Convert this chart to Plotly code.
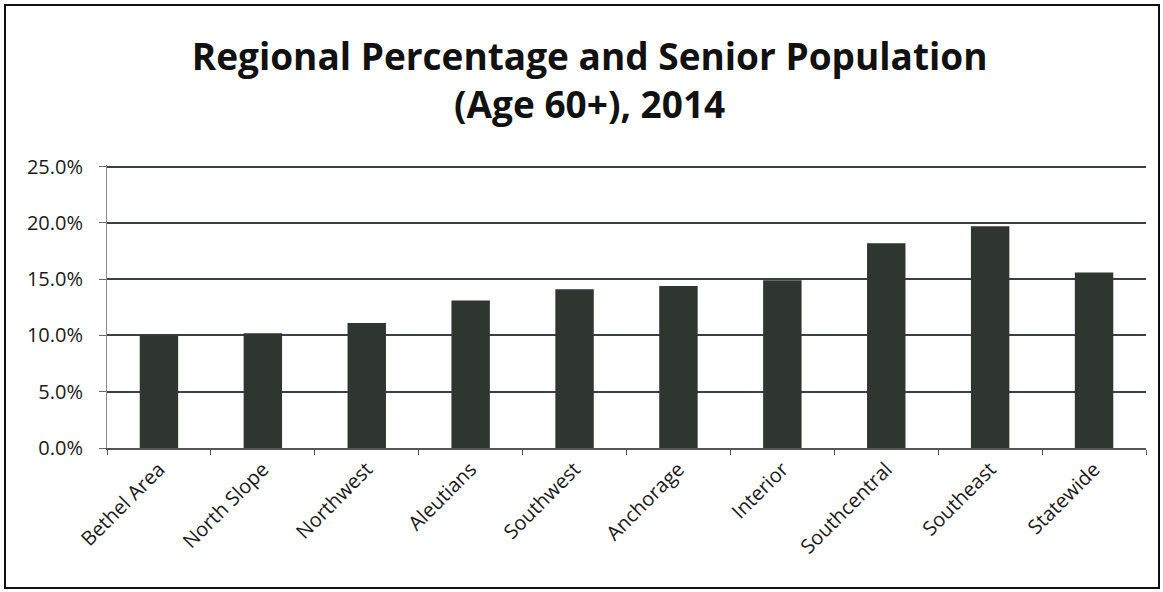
import plotly.graph_objects as go

regions = ["Bethel Area", "North Slope", "Northwest", "Aleutians", "Southwest",
           "Anchorage", "Interior", "Southcentral", "Southeast", "Statewide"]
senior_pct = [0.100, 0.102, 0.111, 0.131, 0.141, 0.144, 0.149, 0.182, 0.197, 0.156]
y_ticks = [0.0, 0.05, 0.10, 0.15, 0.20, 0.25]
y_top = 0.2515

W, H = 1163, 592
L, R, T, B = 107, 17, 165, 144
pw, ph = W - L - R, H - T - B

fig = go.Figure(go.Bar(x=regions, y=senior_pct, marker=dict(color="#2f362f", line=dict(width=0))))

fig.update_layout(
    width=W, height=H,
    margin=dict(l=L, r=R, t=T, b=B),
    paper_bgcolor="white", plot_bgcolor="white",
    font=dict(family="Open Sans, Lato, sans-serif", color="#1a1a1a", size=20),
    bargap=0.63,
    showlegend=False,
    title=dict(
        text="<b>Regional Percentage and Senior Population<br>(Age 60+), 2014</b>",
        x=0.507, xanchor="center", y=0.882, yanchor="middle",
        font=dict(size=37, color="#111111"),
    ),
    shapes=[dict(
        type="rect", xref="paper", yref="paper",
        x0=(5 - L) / pw, x1=(1159 - L) / pw,
        y0=(H - B - 588) / ph, y1=(H - B - 5) / ph,
        line=dict(color="#111111", width=2),
    )],
)

fig.update_yaxes(
    range=[0, y_top], tickvals=y_ticks, tickformat=".1%",
    showgrid=True, gridcolor="#3a3f44", gridwidth=1.5,
    showline=True, linecolor="#888888", linewidth=1,
    ticks="outside", ticklen=7, tickcolor="#666666",
    ticklabelstandoff=12,
    zeroline=False,
)
fig.update_xaxes(
    tickangle=-45, tickson="boundaries",
    ticks="outside", ticklen=5, tickcolor="#555555",
    showline=True, linecolor="#555555", linewidth=1.5,
    showgrid=False,
)

fig.write_html("out.html", config={"displayModeBar": False},
               post_script="document.body.style.margin='0';")
